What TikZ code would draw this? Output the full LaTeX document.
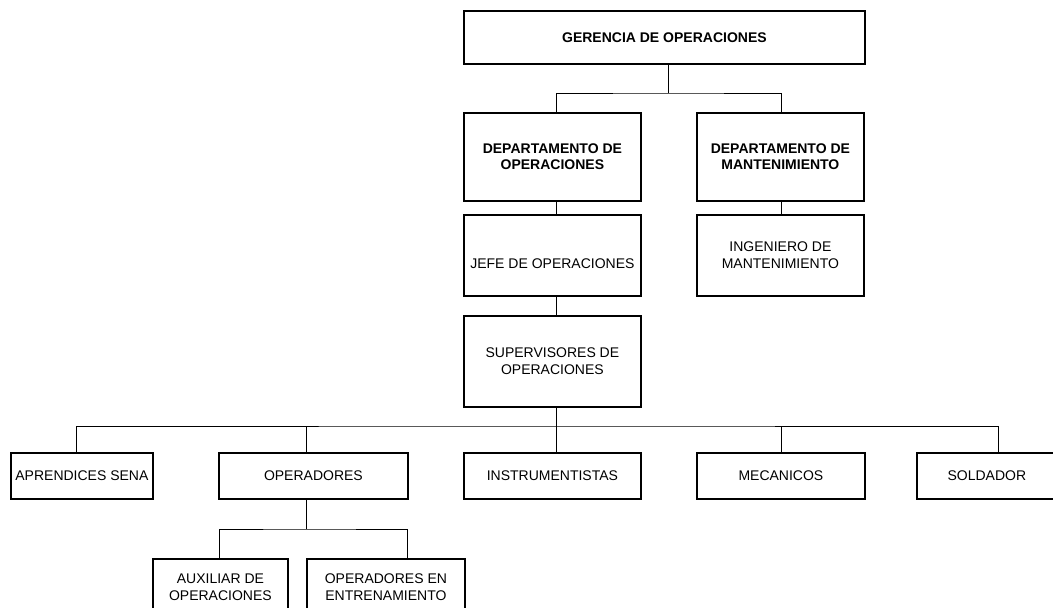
\documentclass[tikz,border=0pt]{standalone}
\usepackage{fontspec}
\setmainfont{Liberation Sans}
\begin{document}
\begin{tikzpicture}[x=1pt,y=-1pt,
  box/.style={draw,line width=1.8pt,anchor=north west,align=center,inner sep=0pt,
              font=\fontsize{14}{17}\selectfont},
  boldbox/.style={box,font=\fontsize{14}{16}\selectfont\bfseries},
  conn/.style={line width=1pt}]
\useasboundingbox (0,0) rectangle (1053,608);

% boxes
\node[boldbox,minimum width=401pt,minimum height=53pt] (ger) at (463,10) {GERENCIA DE OPERACIONES};
\node[boldbox,minimum width=177pt,minimum height=88pt] (dop) at (463,112) {DEPARTAMENTO DE\\OPERACIONES};
\node[boldbox,minimum width=167pt,minimum height=88pt] (mop) at (696,112) {DEPARTAMENTO DE\\MANTENIMIENTO};
\node[box,minimum width=177pt,minimum height=81pt] (jefe) at (463,214) {\raisebox{-13pt}[0pt][0pt]{JEFE DE OPERACIONES}};
\node[box,minimum width=167pt,minimum height=81pt] (ing) at (696,214) {INGENIERO DE\\MANTENIMIENTO};
\node[box,minimum width=177pt,minimum height=91pt] (sup) at (463,315) {SUPERVISORES DE\\OPERACIONES};
\node[box,minimum width=142pt,minimum height=46pt] (apr) at (10,452) {APRENDICES SENA};
\node[box,minimum width=189pt,minimum height=46pt] (ope) at (218,452) {OPERADORES};
\node[box,minimum width=177pt,minimum height=46pt] (ins) at (463,452) {INSTRUMENTISTAS};
\node[box,minimum width=168pt,minimum height=46pt] (mec) at (696,452) {MECANICOS};
\node[box,minimum width=140pt,minimum height=46pt] (sol) at (916,452) {SOLDADOR};
\node[box,minimum width=135pt,minimum height=56pt] (aux) at (152,558) {AUXILIAR DE\\OPERACIONES};
\node[box,minimum width=158pt,minimum height=56pt] (oee) at (306,558) {OPERADORES EN\\ENTRENAMIENTO};

% junction points and branch columns
\coordinate (t1) at (668,93);
\coordinate (t2) at (556,426);
\coordinate (t3) at (306,529);
\coordinate (xa) at (556,0);
\coordinate (xb) at (781,0);
\coordinate (x1) at (76,0);
\coordinate (x2) at (306,0);
\coordinate (x4) at (998,0);
\coordinate (x5) at (219,0);
\coordinate (x6) at (407,0);

% connectors
\draw[conn] (ger.south -| t1) -- (t1);
\draw[conn] (dop.north -| xa) |- (t1) -| (mop.north -| xb);
\draw[conn] (dop.south -| xa) -- (jefe.north -| xa);
\draw[conn] (jefe.south -| xa) -- (sup.north -| xa);
\draw[conn] (mop.south -| xb) -- (ing.north -| xb);
\draw[conn] (sup.south -| xa) -- (t2);
\draw[conn] (apr.north -| x1) |- (t2) -| (sol.north -| x4);
\draw[conn] (ope.north -| x2) -- (x2 |- t2);
\draw[conn] (ins.north -| xa) -- (t2);
\draw[conn] (mec.north -| xb) -- (xb |- t2);
\draw[conn] (ope.south -| x2) -- (t3);
\draw[conn] (aux.north -| x5) |- (t3) -| (oee.north -| x6);
\end{tikzpicture}
\end{document}
